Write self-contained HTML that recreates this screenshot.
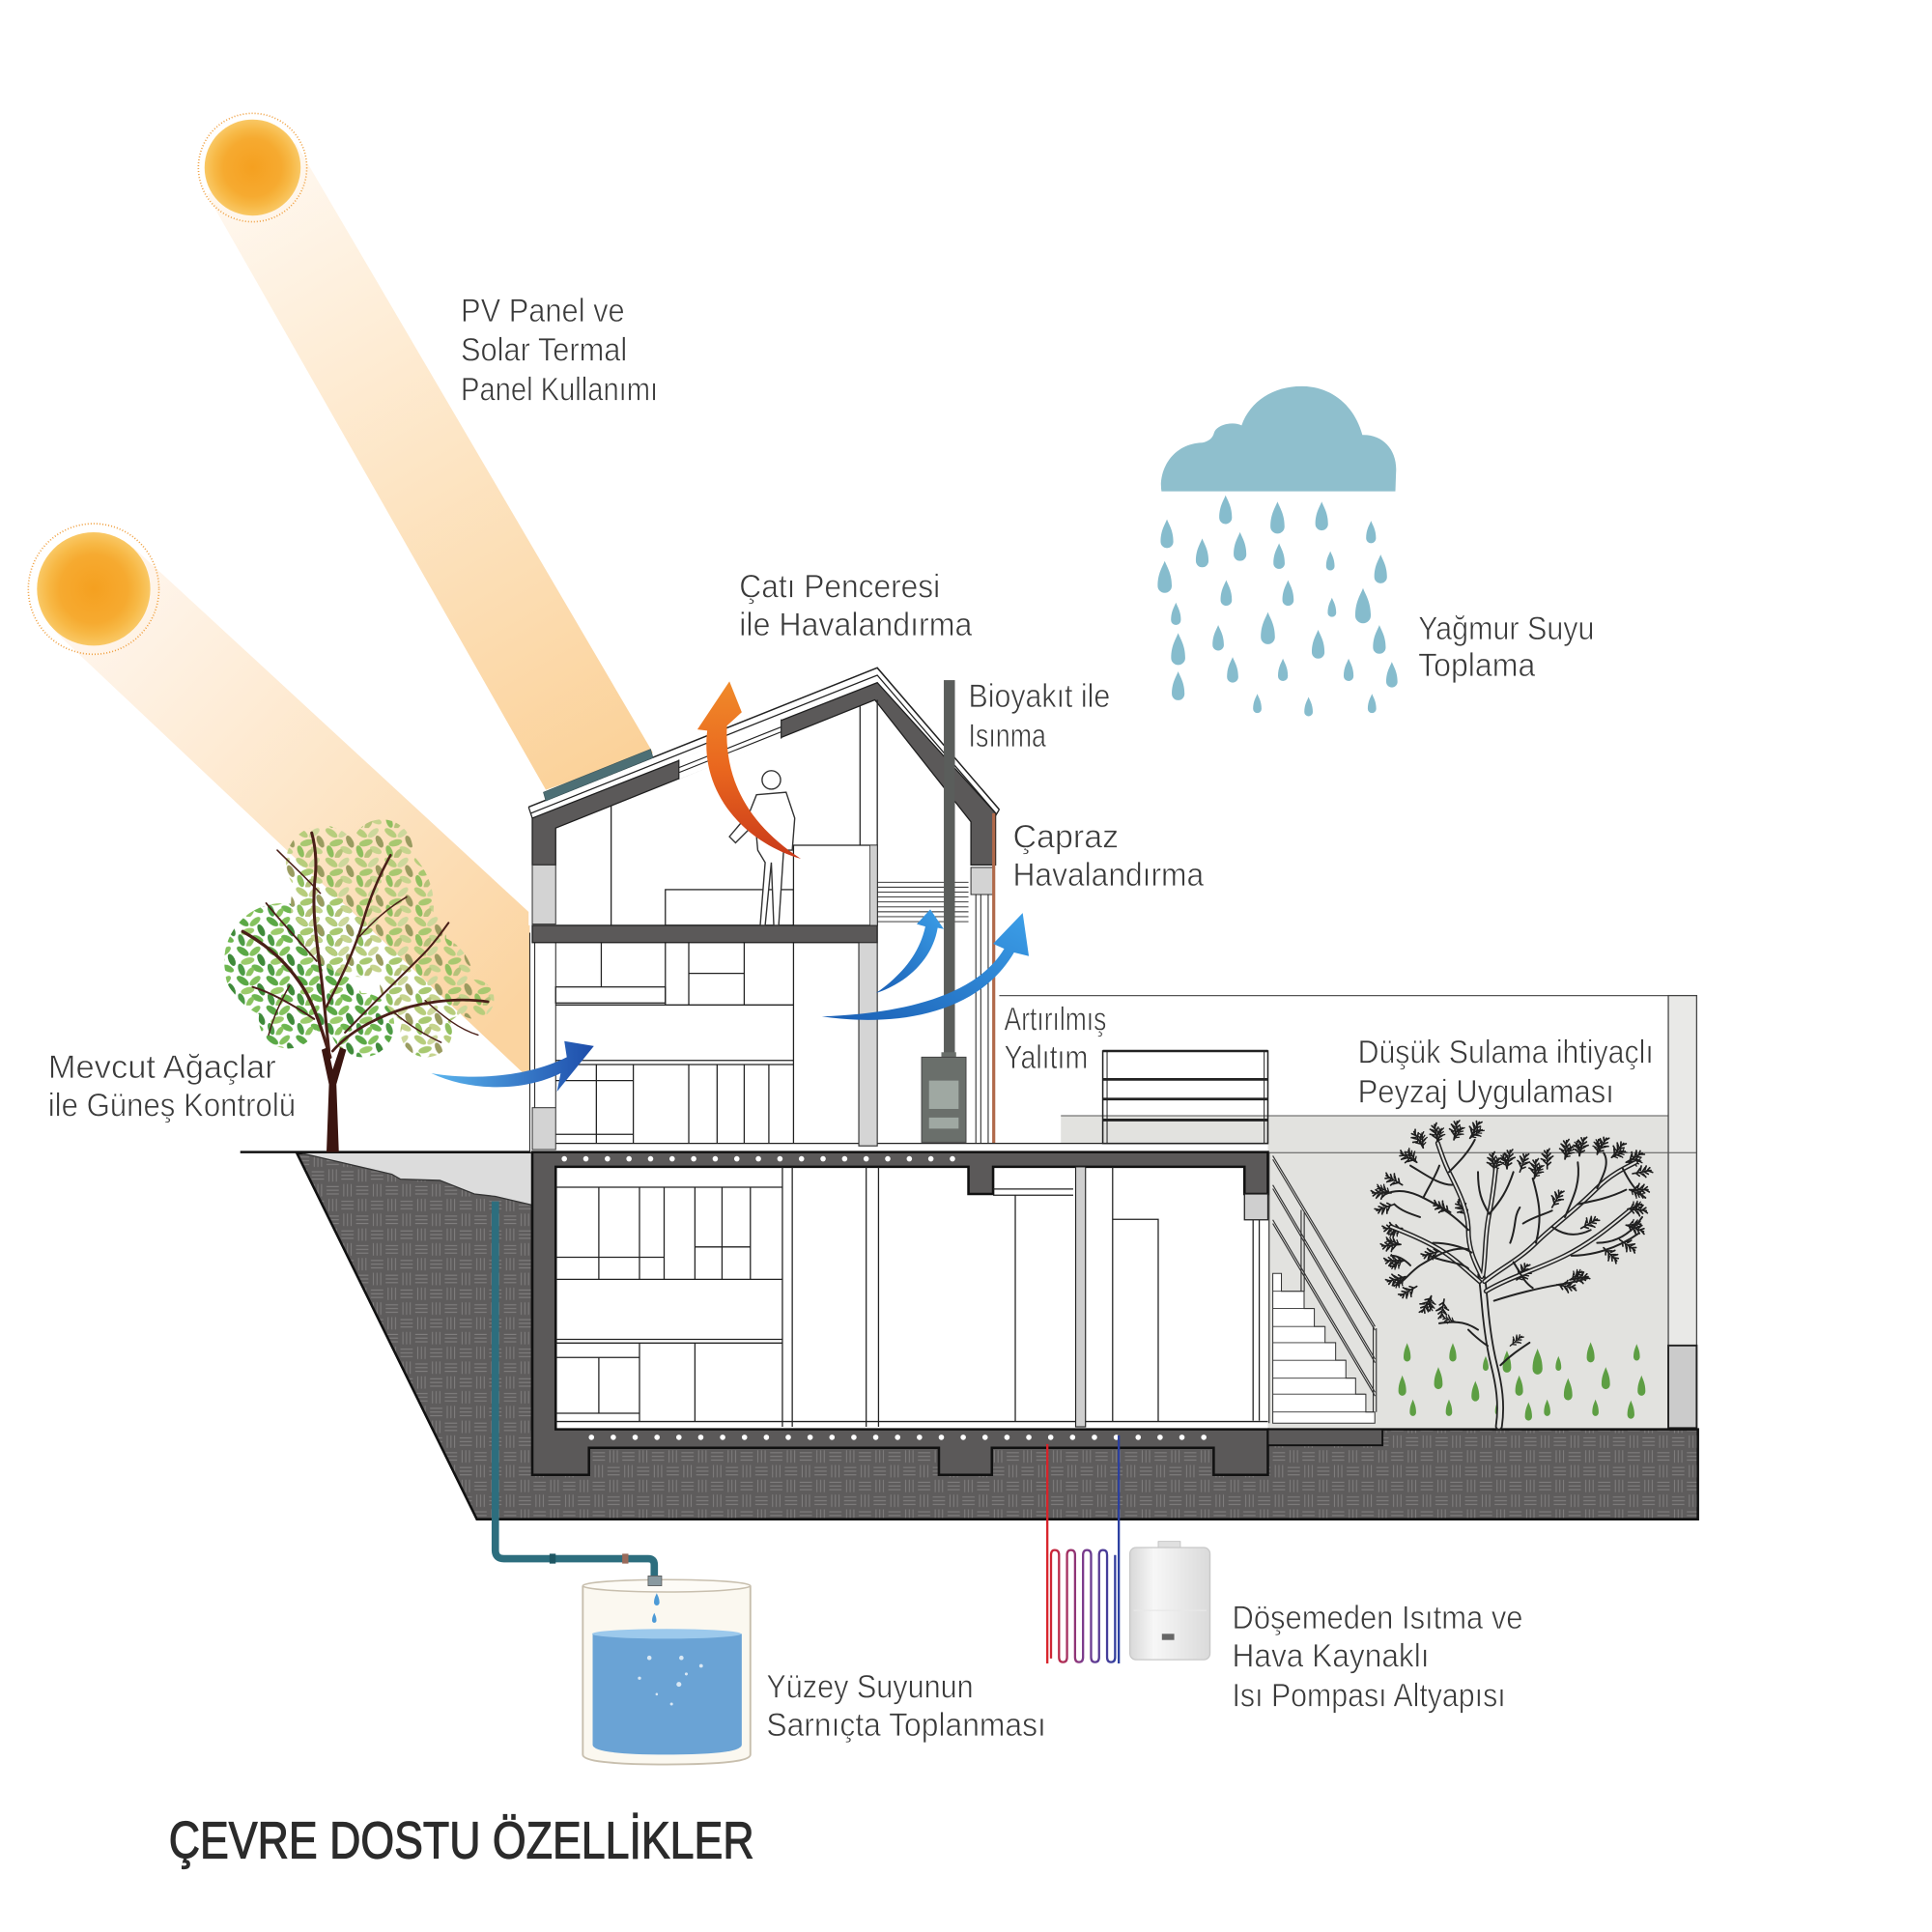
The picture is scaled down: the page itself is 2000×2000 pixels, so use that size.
<!DOCTYPE html>
<html><head><meta charset="utf-8">
<style>html,body{margin:0;padding:0;background:#fff}svg{display:block}text{font-family:"Liberation Sans",sans-serif}</style>
</head><body>
<svg xmlns="http://www.w3.org/2000/svg" width="2000" height="2000" viewBox="0 0 1568 1568">
<defs>
<linearGradient id="beam1" gradientUnits="userSpaceOnUse" x1="205" y1="136" x2="487" y2="626"><stop offset="0" stop-color="#fff8f0"/><stop offset="0.5" stop-color="#fde5c4"/><stop offset="1" stop-color="#fbd29a"/></linearGradient>
<linearGradient id="beam2" gradientUnits="userSpaceOnUse" x1="76" y1="478" x2="430" y2="808"><stop offset="0" stop-color="#fff6ee"/><stop offset="0.5" stop-color="#fde6c8"/><stop offset="1" stop-color="#fbd4a0"/></linearGradient>
<radialGradient id="sun"><stop offset="0" stop-color="#f5a020"/><stop offset="0.6" stop-color="#f6aa30"/><stop offset="0.8" stop-color="#f7b845"/><stop offset="1" stop-color="#f9c865"/></radialGradient>
<pattern id="earth" width="24" height="24" patternUnits="userSpaceOnUse">
<rect width="24" height="24" fill="#5e5c5c"/>
<g stroke="#858383" stroke-width="0.7" fill="none">
<path d="M1,3H11M1,6H11M1,9H11M15,1V11M18,1V11M21,1V11M3,13V23M6,13V23M9,13V23M13,15H23M13,18H23M13,21H23"/>
</g></pattern>
<pattern id="leafG" width="24" height="24" patternUnits="userSpaceOnUse">
<ellipse cx="5" cy="4" rx="5.6" ry="2.6" transform="rotate(35 5 4)" fill="#5aa845"/>
<ellipse cx="15" cy="4" rx="5.2" ry="2.5" transform="rotate(-40 15 4)" fill="#84c25e"/>
<ellipse cx="20" cy="11" rx="5.2" ry="2.5" transform="rotate(65 20 11)" fill="#3f8a3a"/>
<ellipse cx="9" cy="12" rx="5.5" ry="2.6" transform="rotate(-15 9 12)" fill="#9ccb6c"/>
<ellipse cx="17" cy="18" rx="5" ry="2.5" transform="rotate(25 17 18)" fill="#6db650"/>
<ellipse cx="4" cy="19" rx="5" ry="2.4" transform="rotate(70 4 19)" fill="#4c9b45"/>
<ellipse cx="11" cy="21" rx="4.5" ry="2.2" transform="rotate(-55 11 21)" fill="#8bc35f"/>
</pattern>
<pattern id="leafP" width="24" height="24" patternUnits="userSpaceOnUse">
<ellipse cx="5" cy="4" rx="5.6" ry="2.6" transform="rotate(35 5 4)" fill="#b7cd7c"/>
<ellipse cx="15" cy="4" rx="5.2" ry="2.5" transform="rotate(-40 15 4)" fill="#cdd89c"/>
<ellipse cx="20" cy="11" rx="5.2" ry="2.5" transform="rotate(65 20 11)" fill="#9a9c60"/>
<ellipse cx="9" cy="12" rx="5.5" ry="2.6" transform="rotate(-15 9 12)" fill="#a8c870"/>
<ellipse cx="17" cy="18" rx="5" ry="2.5" transform="rotate(25 17 18)" fill="#c6d48e"/>
<ellipse cx="4" cy="19" rx="5" ry="2.4" transform="rotate(70 4 19)" fill="#8fbf5e"/>
<ellipse cx="11" cy="21" rx="4.5" ry="2.2" transform="rotate(-55 11 21)" fill="#b5c27a"/>
</pattern>
<linearGradient id="og" x1="0" y1="0" x2="0" y2="1"><stop offset="0" stop-color="#f08a2a"/><stop offset="0.5" stop-color="#e9661e"/><stop offset="1" stop-color="#c9391a"/></linearGradient>
<linearGradient id="bg1" x1="0" y1="0" x2="1" y2="0"><stop offset="0" stop-color="#5ab5ee"/><stop offset="1" stop-color="#1d4caa"/></linearGradient>
<linearGradient id="bg2" x1="0" y1="1" x2="1" y2="0"><stop offset="0" stop-color="#1a5fb5"/><stop offset="1" stop-color="#3c9fe8"/></linearGradient>
<linearGradient id="coil" gradientUnits="userSpaceOnUse" x1="850" y1="0" x2="908" y2="0"><stop offset="0" stop-color="#d8232a"/><stop offset="0.5" stop-color="#7b3a8c"/><stop offset="1" stop-color="#2b3fa0"/></linearGradient>
<linearGradient id="hp" x1="0" y1="0" x2="1" y2="0"><stop offset="0" stop-color="#d8d8d8"/><stop offset="0.3" stop-color="#f7f7f7"/><stop offset="1" stop-color="#dadada"/></linearGradient>
<path id="drop" d="M0,-0.5 C0.06,-0.33 0.22,-0.12 0.22,0.28 A0.22,0.22 0 0 1 -0.22,0.28 C-0.22,-0.12 -0.06,-0.33 0,-0.5 Z"/>
<path id="tw" d="M0,0 L58,0 M10,0 L20,11 M14,0 L26,-12 M22,0 L34,12 M30,0 L42,-12 M36,0 L48,10 M44,0 L56,-9 M50,0 L62,7 M26,-6 L31,-19 M32,6 L39,18 M40,-5 L46,-16"/>
</defs>

<rect width="1568" height="1568" fill="#fff"/>

<!-- sun beams -->
<polygon points="240,116 530,611 443,641 168,158" fill="url(#beam1)"/>
<polygon points="108,444 430,741 430,876 44,512" fill="url(#beam2)"/>

<!-- suns -->
<circle cx="205" cy="136" r="44" fill="none" stroke="#f0a040" stroke-width="1.3" stroke-dasharray="0.8 1.6"/>
<circle cx="205" cy="136" r="39" fill="url(#sun)"/>
<circle cx="76" cy="478" r="53" fill="none" stroke="#f0a040" stroke-width="1.3" stroke-dasharray="0.8 1.6"/>
<circle cx="76" cy="478" r="46" fill="url(#sun)"/>

<!-- cloud & rain -->
<g transform="translate(925,297.9) scale(0.26)">
<path d="M68,388 C58,330 95,240 195,236 C215,232 228,222 232,205 C240,180 290,168 318,182 C345,105 420,58 510,60 C600,62 670,120 695,212 C760,210 805,260 800,330 L798,388 Z" fill="#8fbfcd"/>
<g fill="#86bccd">
<use href="#drop" transform="translate(268,445) scale(90)"/>
<use href="#drop" transform="translate(430,470) scale(100)"/>
<use href="#drop" transform="translate(568,465) scale(90)"/>
<use href="#drop" transform="translate(85,520) scale(90)"/>
<use href="#drop" transform="translate(195,580) scale(90)"/>
<use href="#drop" transform="translate(313,560) scale(90)"/>
<use href="#drop" transform="translate(722,515) scale(70)"/>
<use href="#drop" transform="translate(435,590) scale(80)"/>
<use href="#drop" transform="translate(595,605) scale(60)"/>
<use href="#drop" transform="translate(752,630) scale(90)"/>
<use href="#drop" transform="translate(78,655) scale(100)"/>
<use href="#drop" transform="translate(270,705) scale(80)"/>
<use href="#drop" transform="translate(463,705) scale(80)"/>
<use href="#drop" transform="translate(600,750) scale(60)"/>
<use href="#drop" transform="translate(697,745) scale(110)"/>
<use href="#drop" transform="translate(113,770) scale(70)"/>
<use href="#drop" transform="translate(400,815) scale(100)"/>
<use href="#drop" transform="translate(245,845) scale(80)"/>
<use href="#drop" transform="translate(557,865) scale(90)"/>
<use href="#drop" transform="translate(748,850) scale(90)"/>
<use href="#drop" transform="translate(120,880) scale(100)"/>
<use href="#drop" transform="translate(290,945) scale(80)"/>
<use href="#drop" transform="translate(447,945) scale(70)"/>
<use href="#drop" transform="translate(652,945) scale(70)"/>
<use href="#drop" transform="translate(787,960) scale(80)"/>
<use href="#drop" transform="translate(120,995) scale(90)"/>
<use href="#drop" transform="translate(367,1050) scale(60)"/>
<use href="#drop" transform="translate(527,1060) scale(60)"/>
<use href="#drop" transform="translate(725,1050) scale(60)"/>
</g></g>

<!-- landscape backdrop -->
<line x1="808" y1="808" x2="1377" y2="808" stroke="#555" stroke-width="1"/>
<rect x="861" y="905.5" width="493" height="22.5" fill="#e2e2df"/>
<rect x="1029" y="905.5" width="325" height="253.5" fill="#e2e2df"/>
<line x1="861" y1="905.5" x2="1354" y2="905.5" stroke="#555" stroke-width="0.8"/>
<rect x="1354" y="808" width="23" height="351" fill="#e9e9e7" stroke="#444" stroke-width="1"/>
<rect x="1354" y="1092" width="23" height="67" fill="#cbcbcb" stroke="#222" stroke-width="1.5"/>
<line x1="1029" y1="935.5" x2="1377" y2="935.5" stroke="#555" stroke-width="0.8"/>

<!-- earth -->
<path d="M241,936 L432,936 L432,1160 L1378,1160 L1378,1233 L387,1233 Z" fill="url(#earth)" stroke="#111" stroke-width="2"/>
<polygon points="245,936 432,936 432,978 402,971 385,969 357,958 325,957 318,953" fill="#dcdcdc"/>
<polyline points="245,936 318,953 325,957 357,958 385,969 402,971 432,978" fill="none" stroke="#333" stroke-width="1"/>
<line x1="195" y1="935" x2="432" y2="935" stroke="#111" stroke-width="2"/>

<!-- water pipe -->
<path d="M402,975 V1258 Q402,1265 409,1265 H526 Q531,1265 531,1270 V1281" fill="none" stroke="#2d6e7e" stroke-width="6"/>
<rect x="446" y="1261" width="5" height="8" fill="#1e5663"/>
<rect x="505" y="1261" width="5" height="8" fill="#9a6a5a"/>

<!-- building: white interiors -->
<polygon points="429,655 712,542 811,657 811,751 429,751" fill="#fff"/>
<rect x="430" y="751" width="381" height="184" fill="#fff"/>
<rect x="451" y="947" width="578" height="213" fill="#fff"/>

<!-- roof -->
<polyline points="429,655 712,542 811,657" fill="none" stroke="#222" stroke-width="1.2"/>
<polyline points="431,660 712,548 809,661" fill="none" stroke="#222" stroke-width="1"/>
<path d="M429,655 L432,664 M811,657 L808,662" stroke="#222" stroke-width="1"/>
<polygon points="432,664 712,554 808,660 808,702 788,702 788,667 710,568 451,672 451,702 432,702" fill="#5b5959" stroke="#1e1e1e" stroke-width="1"/>
<polygon points="551,616.5 634,583.8 634,599.5 551,632.5" fill="#fff"/>
<path d="M551,616.5 V632.5 M634,583.8 V599.5 M551,623 L634,590 M551,627 L634,594" stroke="#222" stroke-width="0.9" fill="none"/>
<polygon points="441,643 528,608 530,615 443,650" fill="#4d6f75" stroke="#3b5559" stroke-width="0.5"/>

<!-- attic -->
<rect x="432" y="702" width="19" height="48" fill="#d3d3d3" stroke="#333" stroke-width="0.8"/>
<rect x="788" y="704" width="18" height="22" fill="#d3d3d3" stroke="#333" stroke-width="0.8"/>
<rect x="432" y="751" width="280" height="14" fill="#5b5959" stroke="#1e1e1e" stroke-width="1"/>
<g stroke="#222" stroke-width="1" fill="none">
<path d="M496,654V751 M698,573V686 M712,568V751"/>
<rect x="540" y="722" width="104" height="29"/>
<rect x="644" y="686" width="68" height="65" fill="#fff"/>
<path d="M712,716H786 M712,720H786 M712,724H786 M712,728H786 M712,732H786 M712,736H786 M712,740H786 M712,744H786 M712,748H786" stroke-width="0.7"/>
<path d="M792,726V928 M796,726V928 M802,726V928" stroke-width="0.8"/>
</g>
<rect x="706" y="686" width="6" height="65" fill="#cfcfcf" stroke="#333" stroke-width="0.6"/>
<line x1="806.5" y1="660" x2="806.5" y2="928" stroke="#b0694a" stroke-width="2.5"/>

<!-- person -->
<g stroke="#333" stroke-width="1.1" fill="#fff">
<path d="M614,645 L638,643 L645,664 L643,690 L636,690 L632,751 L628,751 L626,700 L621,751 L617,751 L621,700 L615,690 L613,668 L597,684 L592,679 L608,660 Z"/>
<circle cx="626" cy="633" r="7.5"/>
</g>

<!-- middle floor -->
<g stroke="#222" stroke-width="1" fill="none">
<path d="M430,757V935 M434,765V899 M451,765V899" stroke-width="0.8"/>
<path d="M451,815.6H644 M488,765V801 M540,765V815.6 M559,765V815.6 M604,765V815.6 M559,790H604 M644,765V928 M451,860.6H644 M451,864H644 M484,864V928 M514,864V928 M559,864V928 M582,864V928 M604,864V928 M624,864V928 M451,877H514 M451,920.6H514"/>
<rect x="451" y="801" width="89" height="13"/>
<path d="M432,928H1029"/>
</g>
<rect x="432" y="899" width="19" height="34" fill="#d3d3d3" stroke="#333" stroke-width="0.8"/>
<rect x="697" y="765" width="15" height="165" fill="#d5d5d5" stroke="#333" stroke-width="0.9"/>
<rect x="766" y="552" width="9" height="306" fill="#5a5d5b"/>
<rect x="764" y="854" width="12" height="5" fill="#6a6f6b"/>
<rect x="748" y="858" width="36" height="69" fill="#6a6f6b" stroke="#444" stroke-width="0.8"/>
<rect x="754" y="877" width="24" height="23" fill="#9fa8a2"/>
<rect x="754" y="907" width="24" height="9" fill="#9fa8a2"/>

<!-- terrace railing -->
<g stroke="#222" fill="none">
<rect x="895" y="853" width="134" height="75" stroke-width="1.2"/>
<path d="M898.5,853V928 M1026,853V928" stroke-width="0.8"/>
<path d="M895,876H1029 M895,892H1029 M895,909H1029" stroke-width="2.2"/>
<path d="M895,853H1029" stroke-width="2"/>
</g>

<!-- building shell -->
<path d="M432,935 H1029 V969 H1010 V947 H806 V969 H786 V947 H451 V1160 H1029 V1197 H985 V1175 H805 V1197 H762 V1175 H478 V1197 H432 Z" fill="#5b5959" stroke="#111" stroke-width="2"/>
<rect x="1010" y="969" width="19" height="21" fill="#cfcfcf" stroke="#222" stroke-width="1"/>
<line x1="458" y1="940.5" x2="774" y2="940.5" stroke="#fff" stroke-width="4.4" stroke-linecap="round" stroke-dasharray="0 17.5"/>
<line x1="480" y1="1166.5" x2="978" y2="1166.5" stroke="#fff" stroke-width="4.4" stroke-linecap="round" stroke-dasharray="0 17.75"/>

<!-- basement -->
<g stroke="#222" stroke-width="1" fill="none">
<path d="M451,963.5H635 M486,963.5V1038.3 M519,963.5V1038.3 M539,963.5V1038.3 M564,963.5V1038.3 M586,963.5V1038.3 M609,963.5V1038.3 M451,1020.4H539 M564,1012H609 M451,1038.3H635 M451,1087H635 M451,1090H635 M486,1101.7V1147 M519,1090V1153.7 M564,1090V1153.7 M451,1101.7H519 M451,1147H519 M635,947V1158 M643,947V1158 M703,947V1158 M713,947V1158 M806,965H871 M806,970H871 M824,970V1153.7 M903,947V1153.7 M903,989.6H940V1153.7 M1017,990V1153 M1022,990V1153 M451,1153.7H1029"/>
</g>
<rect x="873" y="947" width="8" height="211" fill="#cfcfcf" stroke="#222" stroke-width="0.9"/>

<!-- stairs -->
<path d="M1033,1033.5 H1040 V1048 H1058.4 V1062 H1066.7 V1076.6 H1075.4 V1089.7 H1084 V1104 H1092.3 V1118.5 H1100.2 V1131.5 H1108.5 V1146 H1115.8 V1155 H1033 Z" fill="#fff" stroke="#333" stroke-width="0.8"/>
<path d="M1033,1048H1058 M1033,1062H1066 M1033,1076.6H1075 M1033,1089.7H1084 M1033,1104H1092 M1033,1118.5H1100 M1033,1131.5H1108 M1033,1146H1115" stroke="#333" stroke-width="0.7"/>
<g stroke="#333" stroke-width="0.9" fill="none">
<path d="M1033,938 L1116,1076.6 M1033,941 L1116,1079.6 M1033,961.7 L1116,1103 M1033,964.7 L1116,1106 M1033,990 L1116,1130 M1033,993 L1116,1133"/>
<path d="M1056,982 V1048 M1058.5,984 V1048 M1114.5,1076 V1146 M1117,1078 V1146"/>
<path d="M1030,935 V1155"/>
</g>
<rect x="1029" y="1160" width="93" height="13" fill="#5b5959" stroke="#111" stroke-width="1.5"/>

<!-- green drops (landscape) -->
<g transform="translate(1019.2,784) scale(0.2613,0.3)" fill="#5d9e43">
<use href="#drop" transform="translate(470,1045) scale(50)"/>
<use href="#drop" transform="translate(612,1045) scale(50)"/>
<use href="#drop" transform="translate(714,1075) scale(40)"/>
<use href="#drop" transform="translate(780,1070) scale(60)"/>
<use href="#drop" transform="translate(875,1070) scale(70)"/>
<use href="#drop" transform="translate(940,1075) scale(40)"/>
<use href="#drop" transform="translate(1040,1045) scale(55)"/>
<use href="#drop" transform="translate(1183,1045) scale(45)"/>
<use href="#drop" transform="translate(455,1135) scale(55)"/>
<use href="#drop" transform="translate(567,1115) scale(60)"/>
<use href="#drop" transform="translate(682,1150) scale(55)"/>
<use href="#drop" transform="translate(818,1135) scale(55)"/>
<use href="#drop" transform="translate(970,1145) scale(60)"/>
<use href="#drop" transform="translate(1087,1115) scale(60)"/>
<use href="#drop" transform="translate(1198,1135) scale(55)"/>
<use href="#drop" transform="translate(488,1195) scale(45)"/>
<use href="#drop" transform="translate(600,1195) scale(45)"/>
<use href="#drop" transform="translate(752,1195) scale(40)"/>
<use href="#drop" transform="translate(847,1205) scale(50)"/>
<use href="#drop" transform="translate(905,1195) scale(45)"/>
<use href="#drop" transform="translate(1055,1195) scale(45)"/>
<use href="#drop" transform="translate(1165,1200) scale(50)"/>
</g>

<!-- right tree (landscape) -->
<g transform="translate(1113.3,909.4) scale(0.2613)" fill="none" stroke-linecap="round" stroke-linejoin="round">
<g stroke="#1e1e1e" stroke-width="5">
<use href="#tw" transform="translate(160,85) rotate(-120)"/><use href="#tw" transform="translate(160,85) rotate(-95) scale(0.8)"/>
<use href="#tw" transform="translate(205,70) rotate(-100)"/><use href="#tw" transform="translate(205,70) rotate(-75) scale(0.8)"/>
<use href="#tw" transform="translate(255,60) rotate(-80)"/><use href="#tw" transform="translate(255,60) rotate(-55) scale(0.8)"/>
<use href="#tw" transform="translate(305,55) rotate(-60)"/><use href="#tw" transform="translate(305,55) rotate(-35) scale(0.8)"/>
<use href="#tw" transform="translate(140,130) rotate(-150)"/><use href="#tw" transform="translate(140,130) rotate(-125) scale(0.8)"/>
<use href="#tw" transform="translate(60,225) rotate(180)"/><use href="#tw" transform="translate(60,225) rotate(-155) scale(0.8)"/>
<use href="#tw" transform="translate(70,260) rotate(160)"/>
<use href="#tw" transform="translate(95,200) rotate(-150)"/>
<use href="#tw" transform="translate(95,335) rotate(180)"/><use href="#tw" transform="translate(95,335) rotate(155) scale(0.8)"/>
<use href="#tw" transform="translate(90,385) rotate(175)"/><use href="#tw" transform="translate(90,385) rotate(-160) scale(0.8)"/>
<use href="#tw" transform="translate(100,435) rotate(180)"/><use href="#tw" transform="translate(100,435) rotate(155) scale(0.8)"/>
<use href="#tw" transform="translate(105,485) rotate(165)"/><use href="#tw" transform="translate(105,485) rotate(140) scale(0.8)"/>
<use href="#tw" transform="translate(140,515) rotate(150)"/>
<use href="#tw" transform="translate(185,545) rotate(120)"/><use href="#tw" transform="translate(185,545) rotate(95) scale(0.8)"/>
<use href="#tw" transform="translate(225,555) rotate(100)"/>
<use href="#tw" transform="translate(380,160) rotate(-95)"/><use href="#tw" transform="translate(380,160) rotate(-70) scale(0.8)"/>
<use href="#tw" transform="translate(420,150) rotate(-80)"/><use href="#tw" transform="translate(420,150) rotate(-105) scale(0.8)"/>
<use href="#tw" transform="translate(460,160) rotate(-70)"/>
<use href="#tw" transform="translate(505,180) rotate(-85)"/><use href="#tw" transform="translate(505,180) rotate(-60) scale(0.8)"/>
<use href="#tw" transform="translate(545,150) rotate(-90)"/>
<use href="#tw" transform="translate(600,120) rotate(-85)"/><use href="#tw" transform="translate(600,120) rotate(-60) scale(0.8)"/>
<use href="#tw" transform="translate(645,110) rotate(-75)"/><use href="#tw" transform="translate(645,110) rotate(-100) scale(0.8)"/>
<use href="#tw" transform="translate(700,105) rotate(-60)"/><use href="#tw" transform="translate(700,105) rotate(-85) scale(0.8)"/>
<use href="#tw" transform="translate(745,115) rotate(-50)"/><use href="#tw" transform="translate(745,115) rotate(-25) scale(0.8)"/>
<use href="#tw" transform="translate(790,130) rotate(-30)"/><use href="#tw" transform="translate(790,130) rotate(-5) scale(0.8)"/>
<use href="#tw" transform="translate(810,165) rotate(-10)"/>
<use href="#tw" transform="translate(800,215) rotate(0)"/><use href="#tw" transform="translate(800,215) rotate(25) scale(0.8)"/>
<use href="#tw" transform="translate(795,275) rotate(5)"/><use href="#tw" transform="translate(795,275) rotate(-20) scale(0.8)"/>
<use href="#tw" transform="translate(790,325) rotate(20)"/><use href="#tw" transform="translate(790,325) rotate(-5) scale(0.8)"/>
<use href="#tw" transform="translate(770,370) rotate(35)"/>
<use href="#tw" transform="translate(720,395) rotate(45)"/>
<use href="#tw" transform="translate(615,495) rotate(-10)"/><use href="#tw" transform="translate(615,495) rotate(-35) scale(0.8)"/>
<use href="#tw" transform="translate(575,510) rotate(10)"/>
<use href="#tw" transform="translate(450,495) rotate(-55)"/><use href="#tw" transform="translate(450,495) rotate(-30) scale(0.8)"/>
<use href="#tw" transform="translate(300,300) rotate(-125)"/>
<use href="#tw" transform="translate(245,285) rotate(-150)"/>
<use href="#tw" transform="translate(215,405) rotate(165)"/>
<use href="#tw" transform="translate(560,270) rotate(-60)"/>
<use href="#tw" transform="translate(650,335) rotate(-30)"/>
<use href="#tw" transform="translate(430,700) rotate(-40) scale(0.8)"/>
<use href="#tw" transform="translate(260,625) rotate(-160) scale(0.7)"/>
</g>
<path d="M395,950 C405,880 395,820 380,760 C365,700 355,620 350,560 C346,520 345,500 340,480" stroke="#222" stroke-width="24"/>
<path d="M395,950 C405,880 395,820 380,760 C365,700 355,620 350,560 C346,520 345,500 340,480" stroke="#e2e2df" stroke-width="13"/>
<g stroke="#222" stroke-width="15">
<path d="M342,485 C320,440 300,400 300,340 C300,280 270,220 240,160 C225,130 215,100 205,70"/>
<path d="M345,480 C355,420 350,360 365,290 C375,240 380,200 385,150"/>
<path d="M350,500 C400,460 460,430 510,380 C560,330 620,290 700,210 C740,170 780,150 820,130"/>
<path d="M355,530 C420,490 520,460 600,420 C680,380 740,330 800,280"/>
<path d="M335,500 C300,470 260,430 210,400 C160,370 110,350 60,330"/>
</g>
<g stroke="#e2e2df" stroke-width="6">
<path d="M342,485 C320,440 300,400 300,340 C300,280 270,220 240,160 C225,130 215,100 205,70"/>
<path d="M345,480 C355,420 350,360 365,290 C375,240 380,200 385,150"/>
<path d="M350,500 C400,460 460,430 510,380 C560,330 620,290 700,210 C740,170 780,150 820,130"/>
<path d="M355,530 C420,490 520,460 600,420 C680,380 740,330 800,280"/>
<path d="M335,500 C300,470 260,430 210,400 C160,370 110,350 60,330"/>
</g>
<g stroke="#222" stroke-width="6">
<path d="M300,340 C260,300 220,270 160,240 C120,220 80,210 40,230"/>
<path d="M300,400 C250,390 200,420 150,450 C120,470 100,500 80,510"/>
<path d="M240,160 C270,130 300,100 320,60"/>
<path d="M250,200 C210,200 170,170 120,140"/>
<path d="M365,290 C400,250 420,220 440,160"/>
<path d="M365,290 C340,250 330,220 330,160"/>
<path d="M510,380 C530,300 520,250 500,180"/>
<path d="M600,300 C620,250 650,200 640,130"/>
<path d="M700,210 C720,170 740,130 720,100"/>
<path d="M620,420 C680,420 760,400 830,350"/>
<path d="M700,380 C750,380 800,360 840,300"/>
<path d="M380,560 C440,540 520,520 580,510 C620,505 650,495 670,490"/>
<path d="M330,650 C300,630 270,620 210,630"/>
<path d="M360,700 C330,680 310,660 300,650"/>
<path d="M400,760 C430,730 460,710 490,690"/>
<path d="M430,380 C450,330 440,300 460,270"/>
<path d="M470,320 C500,300 540,290 560,280"/>
<path d="M180,420 C220,440 280,440 300,460"/>
<path d="M190,380 C230,380 280,390 310,410"/>
<path d="M560,330 C600,360 640,360 680,340"/>
<path d="M160,240 C180,200 200,170 210,140"/>
<path d="M120,450 C100,430 80,420 60,420"/>
<path d="M780,150 C800,190 820,220 850,240"/>
<path d="M440,440 C460,470 470,500 500,520"/>
<path d="M150,300 C120,290 90,280 70,260"/>
<path d="M640,260 C690,250 740,240 790,215"/>
</g>
</g>

<!-- left tree -->
<g fill="url(#leafG)">
<circle cx="229" cy="780" r="47"/><circle cx="234" cy="827" r="24"/><circle cx="205" cy="790" r="22"/>
<circle cx="262" cy="760" r="35"/><circle cx="294" cy="832" r="26"/><circle cx="270" cy="815" r="25"/>
</g>
<g fill="url(#leafP)">
<circle cx="294" cy="735" r="58"/><circle cx="262" cy="700" r="30"/><circle cx="310" cy="690" r="25"/>
<circle cx="346" cy="796" r="38"/><circle cx="385" cy="811" r="16"/><circle cx="346" cy="837" r="21"/>
<circle cx="340" cy="760" r="22"/>
</g>
<g stroke="#4a1f18" fill="none" stroke-linecap="round">
<path d="M268,858 C262,838 255,815 245,800 C235,785 222,770 197,756" stroke-width="2.6"/>
<path d="M267,853 C264,825 262,800 259,780 C256,755 253,735 256,710 C257,697 256,687 253,676" stroke-width="2.4"/>
<path d="M265,817 C275,797 286,776 294,750 C299,732 307,712 317,694" stroke-width="2"/>
<path d="M270,853 C283,838 305,825 333,817 C353,812 375,810 396,813" stroke-width="2.2"/>
<path d="M280,838 C300,817 322,796 343,775 C353,765 358,757 364,749" stroke-width="1.6"/>
<path d="M255,827 C240,817 222,806 205,801" stroke-width="1.6"/>
<path d="M257,780 C244,765 228,748 216,733" stroke-width="1.4"/>
<path d="M260,725 C248,712 235,700 225,690" stroke-width="1.2"/>
<path d="M292,760 C305,745 318,735 330,728" stroke-width="1.2"/>
<path d="M320,822 C332,832 345,840 358,846" stroke-width="1.2"/>
<path d="M235,800 C228,812 222,825 218,840" stroke-width="1.2"/>
<path d="M345,812 C360,825 372,835 388,840" stroke-width="1.1"/>
</g>
<path d="M265,935 L275,935 L273,880 L281,852 L276,850 L270,868 L266,850 L261,852 L267,880 Z" fill="#3b1510"/>

<!-- arrows -->
<path d="M650,697 C600,682 568,640 574,593 L566,592 L592,553 L602,578 L590,589 C588,632 606,668 650,697 Z" fill="url(#og)"/>
<path d="M350,871 C382,886 425,886 455,871 L452,886 L482,849 L458,845 L460,858 C428,874 385,877 350,871 Z" fill="url(#bg1)"/>
<path d="M711,806 C738,797 757,777 761,753 L766,754 L755,738 L744,750 L751,752 C746,775 731,792 711,806 Z" fill="url(#bg2)"/>
<path d="M667,825 C722,833 792,826 823,773 L835,776 L830,741 L806,766 L815,770 C790,812 722,823 667,825 Z" fill="url(#bg2)"/>

<!-- tank -->
<path d="M473,1287 V1424 Q473,1432 541,1432 Q609,1432 609,1424 V1287" fill="#fbf8f0" stroke="#c8bfae" stroke-width="1.5"/>
<ellipse cx="541" cy="1287" rx="68" ry="5" fill="#fdfbf6" stroke="#c8bfae" stroke-width="1.2"/>
<path d="M481,1326 V1416 Q481,1424 541,1424 Q602,1424 602,1416 V1326 Z" fill="#6aa3d5"/>
<ellipse cx="541" cy="1326" rx="60.5" ry="4" fill="#9cc9ec"/>
<rect x="526" y="1279" width="11" height="8" fill="#8a9aa0" stroke="#555" stroke-width="0.6"/>
<g fill="#4c9ad6">
<use href="#drop" transform="translate(533,1298) scale(10)"/>
<use href="#drop" transform="translate(531,1313) scale(8)"/>
</g>
<g fill="#fff" opacity="0.75">
<circle cx="527" cy="1345.5" r="1.8"/><circle cx="553" cy="1345.5" r="1.8"/><circle cx="569" cy="1352" r="1.5"/>
<circle cx="519" cy="1362" r="1.3"/><circle cx="551" cy="1367" r="2"/><circle cx="557" cy="1358.6" r="1.2"/>
<circle cx="533" cy="1375" r="1"/><circle cx="545" cy="1383" r="1.2"/>
</g>

<!-- heating coil & heat pump -->
<path d="M850,1172 V1350" stroke="#d8232a" stroke-width="1.8"/>
<path d="M908,1165 V1350" stroke="#2b3fa0" stroke-width="1.8"/>
<path d="M853,1346 V1262 Q853,1258 856,1258 Q859.5,1258 859.5,1262 V1345 Q859.5,1349 862.7,1349 Q866,1349 866,1345 V1262 Q866,1258 869.2,1258 Q872.5,1258 872.5,1262 V1345 Q872.5,1349 875.7,1349 Q879,1349 879,1345 V1262 Q879,1258 882.2,1258 Q885.5,1258 885.5,1262 V1345 Q885.5,1349 888.7,1349 Q892,1349 892,1345 V1262 Q892,1258 895.2,1258 Q898.5,1258 898.5,1262 V1345 Q898.5,1349 901.7,1349 Q905,1349 905,1345 V1262" fill="none" stroke="url(#coil)" stroke-width="1.8"/>
<rect x="940" y="1251" width="18" height="7" fill="#e0e0e0" stroke="#bbb" stroke-width="0.6"/>
<rect x="917" y="1256" width="65" height="91" rx="5" fill="url(#hp)" stroke="#c8c8c8" stroke-width="1"/>
<line x1="920" y1="1307" x2="979" y2="1307" stroke="#e8e8e8" stroke-width="1"/>
<rect x="943" y="1326" width="10" height="5" fill="#666"/>

<!-- labels -->
<g fill="#3a3a3a" font-size="27" stroke="#fff" stroke-width="0.55">
<text x="374" y="261" textLength="133" lengthAdjust="spacingAndGlyphs">PV Panel ve</text>
<text x="374" y="293" textLength="135" lengthAdjust="spacingAndGlyphs">Solar Termal</text>
<text x="374" y="325" textLength="160" lengthAdjust="spacingAndGlyphs">Panel Kullanımı</text>
<text x="600" y="485" textLength="163" lengthAdjust="spacingAndGlyphs">Çatı Penceresi</text>
<text x="600" y="516" textLength="189" lengthAdjust="spacingAndGlyphs">ile Havalandırma</text>
<text x="786" y="574" textLength="115" lengthAdjust="spacingAndGlyphs">Bioyakıt ile</text>
<text x="786" y="606" textLength="63" lengthAdjust="spacingAndGlyphs">Isınma</text>
<text x="822" y="688" textLength="86" lengthAdjust="spacingAndGlyphs">Çapraz</text>
<text x="822" y="719" textLength="155" lengthAdjust="spacingAndGlyphs">Havalandırma</text>
<text x="1151" y="519" textLength="143" lengthAdjust="spacingAndGlyphs">Yağmur Suyu</text>
<text x="1151" y="549" textLength="95" lengthAdjust="spacingAndGlyphs">Toplama</text>
<text x="39" y="875" textLength="185" lengthAdjust="spacingAndGlyphs">Mevcut Ağaçlar</text>
<text x="39" y="906" textLength="201" lengthAdjust="spacingAndGlyphs">ile Güneş Kontrolü</text>
<text x="815" y="836" textLength="83" lengthAdjust="spacingAndGlyphs">Artırılmış</text>
<text x="815" y="867" textLength="68" lengthAdjust="spacingAndGlyphs">Yalıtım</text>
<text x="1102" y="863" textLength="240" lengthAdjust="spacingAndGlyphs">Düşük Sulama ihtiyaçlı</text>
<text x="1102" y="895" textLength="208" lengthAdjust="spacingAndGlyphs">Peyzaj Uygulaması</text>
<text x="622" y="1378" textLength="168" lengthAdjust="spacingAndGlyphs">Yüzey Suyunun</text>
<text x="622" y="1409" textLength="227" lengthAdjust="spacingAndGlyphs">Sarnıçta Toplanması</text>
<text x="1000" y="1322" textLength="236" lengthAdjust="spacingAndGlyphs">Döşemeden Isıtma ve</text>
<text x="1000" y="1353" textLength="160" lengthAdjust="spacingAndGlyphs">Hava Kaynaklı</text>
<text x="1000" y="1385" textLength="222" lengthAdjust="spacingAndGlyphs">Isı Pompası Altyapısı</text>
</g>
<text x="137" y="1508" font-size="42" fill="#2b2b2b" stroke="#2b2b2b" stroke-width="0.9" textLength="475" lengthAdjust="spacingAndGlyphs">ÇEVRE DOSTU ÖZELLİKLER</text>
</svg>
</body></html>
